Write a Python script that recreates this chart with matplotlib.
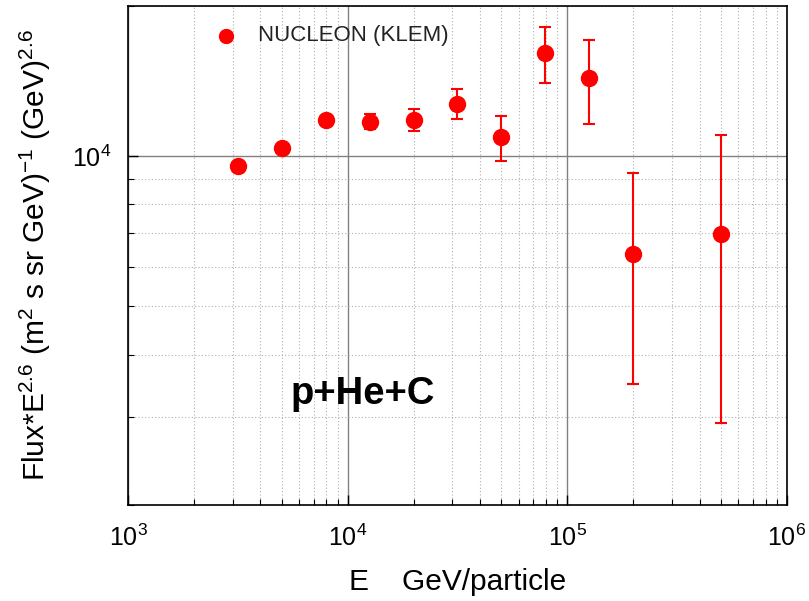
import matplotlib
matplotlib.use("Agg")
import matplotlib.pyplot as plt
from matplotlib.ticker import LogLocator, FixedLocator, NullFormatter

plt.rcParams['font.family'] = ['Liberation Sans', 'DejaVu Sans']
plt.rcParams['mathtext.fontset'] = 'custom'
plt.rcParams['mathtext.rm'] = 'Liberation Sans'
plt.rcParams['mathtext.it'] = 'Liberation Sans'
plt.rcParams['mathtext.default'] = 'regular'

# Data
energy = [3162, 5012, 7943, 12589, 19953, 31623, 50119, 79433, 125893, 199526, 501187]
flux = [9550, 10395, 11806, 11697, 11806, 12690, 10917, 16060, 14360, 6355, 6990]
err_hi = [9550, 10395, 11806, 12120, 12400, 13590, 12030, 18140, 17050, 9233, 11040]
err_lo = [9550, 10395, 11806, 11310, 11220, 11845, 9758, 13980, 11570, 3487, 2921]
series_label = "NUCLEON (KLEM)"
panel_label = "p+He+C"

fig = plt.figure(figsize=(8.09, 6.01), dpi=100)
ax = fig.add_axes([0.1582, 0.1597, 0.8146, 0.8308])
ax.set_xscale('log')
ax.set_yscale('log')
ax.set_xlim(1e3, 1e6)
ax.set_ylim(2000, 20000)

yerr = [[f - lo for f, lo in zip(flux, err_lo)], [hi - f for f, hi in zip(flux, err_hi)]]
ax.errorbar(energy, flux, yerr=yerr, fmt='o', color='#ff0000', ecolor='#ff0000',
            markersize=11.5, elinewidth=1.5, capsize=4.5, capthick=1.5, zorder=5)

# legend-like entry
ax.plot([0.149], [0.94], 'o', color='#ff0000', markersize=10, transform=ax.transAxes,
        clip_on=False, zorder=6)
ax.text(0.197, 0.94, series_label, transform=ax.transAxes, fontsize=16,
        va='center', ha='left', color='#222222')

ax.text(0.246, 0.222, panel_label, transform=ax.transAxes, fontsize=27.5,
        fontweight='bold', va='center', ha='left')

ax.xaxis.set_major_locator(FixedLocator([1e3, 1e4, 1e5, 1e6]))
ax.xaxis.set_minor_locator(LogLocator(base=10, subs=range(2, 10)))
ax.xaxis.set_minor_formatter(NullFormatter())
ax.set_xticklabels([r'$10^{3}$', r'$10^{4}$', r'$10^{5}$', r'$10^{6}$'])
ax.yaxis.set_major_locator(FixedLocator([1e4]))
ax.set_yticklabels([r'$10^{4}$'])
ax.yaxis.set_minor_locator(LogLocator(base=10, subs=range(2, 10)))
ax.yaxis.set_minor_formatter(NullFormatter())

ax.tick_params(which='major', direction='in', length=7, width=1, labelsize=18, pad=12)
ax.tick_params(which='minor', direction='in', length=4, width=0.8)
ax.tick_params(axis='x', which='major', pad=14)

ax.grid(which='major', color='#808080', linewidth=1.0, linestyle='-')
ax.grid(which='minor', color='#b0b0b0', linewidth=0.8, linestyle=(0, (1, 2)))
ax.set_axisbelow(True)

for s in ax.spines.values():
    s.set_linewidth(1.2)
    s.set_color('black')

ax.set_xlabel('E    GeV/particle', fontsize=21.5, labelpad=12)
ax.set_ylabel(r'Flux*E$^{2.6}$ (m$^{2}$ s sr GeV)$^{-1}$ (GeV)$^{2.6}$', fontsize=21.5, labelpad=14)

fig.savefig('out.png', dpi=100)
